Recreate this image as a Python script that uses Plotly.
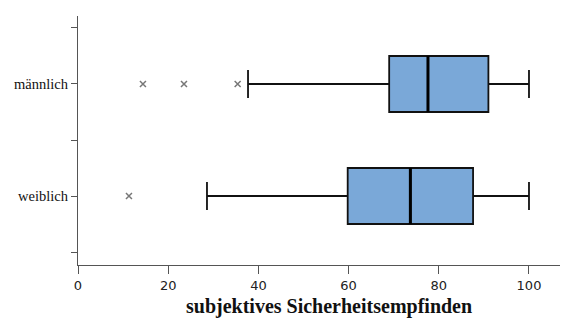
import plotly.graph_objects as go

categories = ["weiblich", "männlich"]
cat_pos = [1, 2]
lower_whisker = [28.6, 37.7]
q1 = [59.8, 69.0]
median = [73.7, 77.6]
q3 = [87.6, 91.0]
upper_whisker = [100, 100]
outliers = {"weiblich": [11.3], "männlich": [14.4, 23.5, 35.4]}

fill = "#7AA8D8"
box_w = 0.5

fig = go.Figure()
for i, c in enumerate(categories):
    fig.add_trace(go.Box(
        y=[cat_pos[i]], q1=[q1[i]], median=[median[i]], q3=[q3[i]],
        lowerfence=[lower_whisker[i]], upperfence=[upper_whisker[i]],
        orientation="h", fillcolor=fill, line=dict(color="#111111", width=1.8),
        width=box_w, whiskerwidth=0.5, boxpoints=False, showlegend=False,
        hoverinfo="skip",
    ))
    fig.add_trace(go.Scatter(
        x=[median[i], median[i]], y=[cat_pos[i] - box_w / 2, cat_pos[i] + box_w / 2],
        mode="lines", line=dict(color="black", width=3), showlegend=False, hoverinfo="skip",
    ))
    pts = outliers[c]
    fig.add_trace(go.Scatter(
        x=pts, y=[cat_pos[i]] * len(pts), mode="markers",
        marker=dict(symbol="x-thin", size=6, line=dict(color="#777777", width=1.5)),
        showlegend=False, hoverinfo="skip",
    ))

# page body has an 8px margin, so the figure is 8px smaller and margins shifted
fig.update_layout(
    width=560, height=312,
    margin=dict(l=70, r=0, t=8, b=55),
    paper_bgcolor="white", plot_bgcolor="white",
    xaxis=dict(
        range=[0, 108.65], tickvals=[0, 20, 40, 60, 80, 100],
        showline=True, linecolor="#555555", linewidth=1.2,
        ticks="outside", ticklen=8, tickcolor="#555555",
        showgrid=False, zeroline=False, automargin=False,
        tickfont=dict(family="DejaVu Sans", size=13, color="#222222"),
    ),
    yaxis=dict(
        range=[0.384, 2.607], tickvals=[0.5, 1, 1.5, 2, 2.5],
        ticktext=["", categories[0], "", categories[1], ""],
        showline=True, linecolor="#555555", linewidth=1.2,
        ticks="outside", ticklen=6, tickcolor="#555555",
        showgrid=False, zeroline=False, automargin=False,
        tickfont=dict(family="Liberation Serif", size=14.5, color="#111111"),
    ),
    annotations=[dict(
        text="<b>subjektives Sicherheitsempfinden</b>",
        x=(329 - 78) / 490, y=-(307 - 265) / 249,
        xref="paper", yref="paper", showarrow=False,
        xanchor="center", yanchor="middle",
        font=dict(family="Liberation Serif", size=20, color="#111111"),
    )],
)

fig.write_html("out.html")
